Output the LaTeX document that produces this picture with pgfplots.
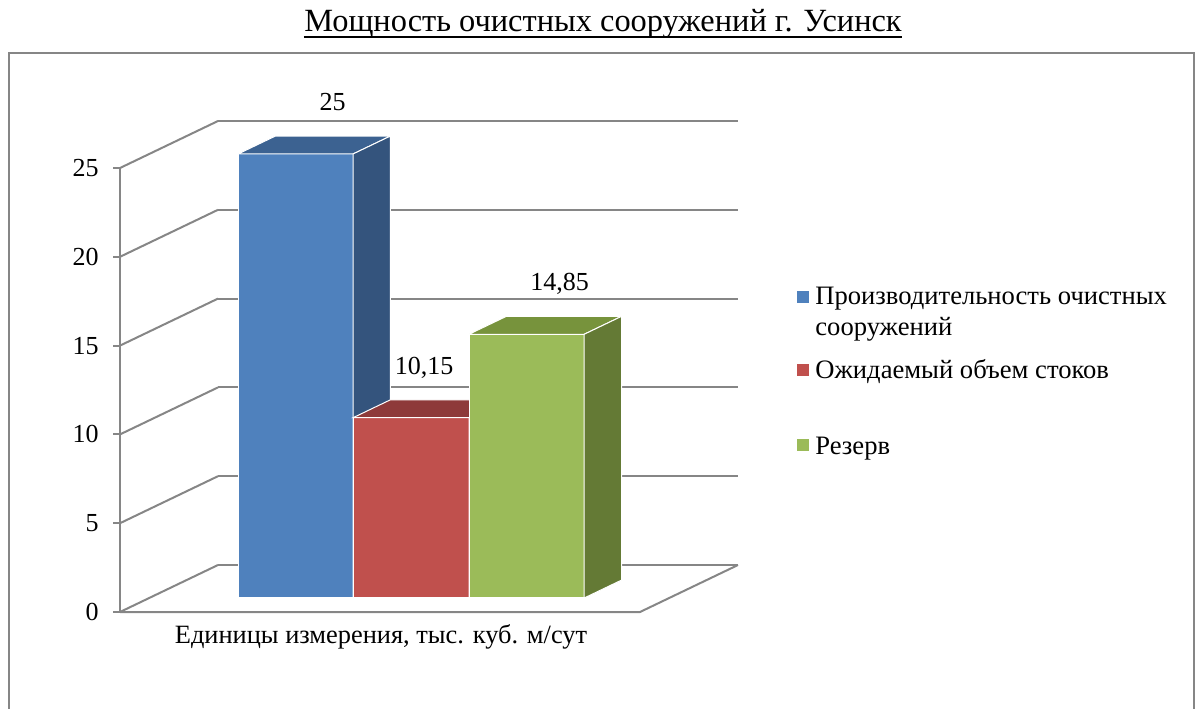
\documentclass[border=0pt]{standalone}
\usepackage{pgfplots}
\pgfplotsset{compat=1.18}
\usepackage{fontspec}
\setmainfont{Liberation Serif}
\definecolor{gridc}{RGB}{134,134,134}
\definecolor{bfront}{RGB}{79,129,189}
\definecolor{btop}{RGB}{60,98,145}
\definecolor{bside}{RGB}{52,84,125}
\definecolor{rfront}{RGB}{192,80,77}
\definecolor{rtop}{RGB}{142,58,58}
\definecolor{rside}{RGB}{130,52,50}
\definecolor{gfront}{RGB}{155,187,89}
\definecolor{gtop}{RGB}{119,147,60}
\definecolor{gside}{RGB}{100,122,53}
\begin{document}
\begin{tikzpicture}
\begin{axis}[
  at={(60pt,48pt)}, anchor=origin, disabledatascaling,
  x={(0.5pt,0pt)}, y={(49pt,23.5pt)}, z={(0pt,8.88pt)},
  xmin=120, xmax=640, ymin=0, ymax=1, zmin=0, zmax=25,
  hide axis, clip=false,
  gl/.style={gridc, line width=1pt},
  face/.style={draw=white, line width=0.5pt},
]
% back wall grid lines
\addplot3[gl] coordinates {(120,1,0) (640,1,0)};
\addplot3[gl] coordinates {(120,1,5) (640,1,5)};
\addplot3[gl] coordinates {(120,1,10) (640,1,10)};
\addplot3[gl] coordinates {(120,1,15) (640,1,15)};
\addplot3[gl] coordinates {(120,1,20) (640,1,20)};
\addplot3[gl] coordinates {(120,1,25) (640,1,25)};
% left wall grid lines
\addplot3[gl] coordinates {(120,0,0) (120,1,0)};
\addplot3[gl] coordinates {(120,0,5) (120,1,5)};
\addplot3[gl] coordinates {(120,0,10) (120,1,10)};
\addplot3[gl] coordinates {(120,0,15) (120,1,15)};
\addplot3[gl] coordinates {(120,0,20) (120,1,20)};
\addplot3[gl] coordinates {(120,0,25) (120,1,25)};
% front vertical axis and ticks
\addplot3[gl] coordinates {(120,0,0) (120,0,25)};
\addplot3[gl] coordinates {(113,0,0) (120,0,0)};
\addplot3[gl] coordinates {(113,0,5) (120,0,5)};
\addplot3[gl] coordinates {(113,0,10) (120,0,10)};
\addplot3[gl] coordinates {(113,0,15) (120,0,15)};
\addplot3[gl] coordinates {(113,0,20) (120,0,20)};
\addplot3[gl] coordinates {(113,0,25) (120,0,25)};
% floor
\addplot3[gl] coordinates {(120,0,0) (640,0,0) (640,1,0)};
% bar 1: 25
\addplot3[face, fill=bfront] coordinates {(208.8,0.298,0) (323.8,0.298,0) (323.8,0.298,25) (208.8,0.298,25)} -- cycle;
\addplot3[face, fill=btop] coordinates {(208.8,0.298,25) (323.8,0.298,25) (323.8,0.68,25) (208.8,0.68,25)} -- cycle;
\addplot3[face, fill=bside] coordinates {(323.8,0.298,0) (323.8,0.68,0) (323.8,0.68,25) (323.8,0.298,25)} -- cycle;
% bar 2: 10.15
\addplot3[face, fill=rfront] coordinates {(323.8,0.298,0) (439.8,0.298,0) (439.8,0.298,10.15) (323.8,0.298,10.15)} -- cycle;
\addplot3[face, fill=rtop] coordinates {(323.8,0.298,10.15) (439.8,0.298,10.15) (439.8,0.68,10.15) (323.8,0.68,10.15)} -- cycle;
\addplot3[face, fill=rside] coordinates {(439.8,0.298,0) (439.8,0.68,0) (439.8,0.68,10.15) (439.8,0.298,10.15)} -- cycle;
% bar 3: 14.85
\addplot3[face, fill=gfront] coordinates {(439.8,0.298,0) (555,0.298,0) (555,0.298,14.85) (439.8,0.298,14.85)} -- cycle;
\addplot3[face, fill=gtop] coordinates {(439.8,0.298,14.85) (555,0.298,14.85) (555,0.68,14.85) (439.8,0.68,14.85)} -- cycle;
\addplot3[face, fill=gside] coordinates {(555,0.298,0) (555,0.68,0) (555,0.68,14.85) (555,0.298,14.85)} -- cycle;
% value labels
\node[font=\fontsize{13}{15}\selectfont, xshift=18.5pt, yshift=26pt] at (axis cs:266.3,0.298,25) {25};
\node[font=\fontsize{13}{15}\selectfont, xshift=6.5pt, yshift=25pt] at (axis cs:381.8,0.298,10.15) {10,15};
\node[font=\fontsize{13}{15}\selectfont, xshift=16.5pt, yshift=25pt] at (axis cs:497.4,0.298,14.85) {14,85};
\end{axis}
\begin{scope}[x=0.5pt, y=-0.5pt, shift={(0pt,354pt)}]
\draw[gridc, line width=1pt] (9,720) -- (9,53) -- (1194,53) -- (1194,720);
\node[anchor=base, inner sep=0pt, font=\fontsize{16.2}{19}\selectfont] (T) at (603,32) {Мощность очистных сооружений г. Усинск};
\draw[line width=1pt] ([yshift=-2.6pt]T.base west) -- ([yshift=-2.6pt]T.base east);
\foreach \v/\py in {0/612,5/523.2,10/434.4,15/345.6,20/256.8,25/168}
  \node[anchor=east, font=\fontsize{13}{15}\selectfont, inner sep=0pt] at (99,\py) {\v};
\node[anchor=base, font=\fontsize{13.2}{15}\selectfont] at (381,643) {Единицы измерения, тыс. куб. м/сут};
\fill[bfront] (797,291) rectangle (809,303);
\fill[rfront] (797,364) rectangle (809,376);
\fill[gfront] (797,439) rectangle (809,451);
\begin{scope}[every node/.style={anchor=base west, inner sep=0pt, font=\fontsize{13.3}{15}\selectfont}]
\node at (815,305) {Производительность очистных};
\node at (815,336) {сооружений};
\node at (815,379) {Ожидаемый объем стоков};
\node at (815,454) {Резерв};
\end{scope}
\pgfresetboundingbox
\path[use as bounding box] (0,0) rectangle (1195,708);
\end{scope}
\end{tikzpicture}
\end{document}
